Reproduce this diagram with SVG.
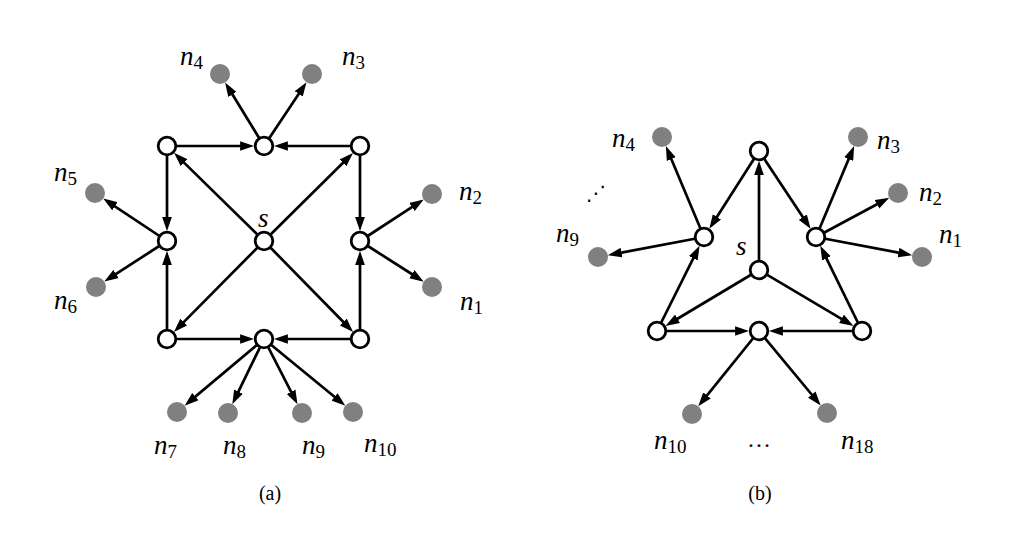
<svg xmlns="http://www.w3.org/2000/svg" width="1028" height="553" viewBox="0 0 1028 553">
<style>
.e{stroke:#000;stroke-width:2.7;fill:none;marker-end:url(#ah)}
.o{fill:#fff;stroke:#000;stroke-width:2.8}
.g{fill:#808080;stroke:none}
.l{font-family:"Liberation Serif","Times New Roman",serif;font-style:italic;font-size:27px;fill:#000}
.sub{font-size:19px;font-style:normal}
.cap{font-family:"Liberation Serif","Times New Roman",serif;font-size:20px;fill:#000;text-anchor:middle}
</style>
<defs>
<marker id="ah" markerUnits="userSpaceOnUse" markerWidth="14" markerHeight="10" refX="5" refY="4.5" orient="auto" viewBox="0 0 13 9">
<path d="M0,0 L13,4.5 L0,9 z" fill="#000"/>
</marker>
</defs>
<rect width="1028" height="553" fill="#fff"/>
<g id="connectors">
<line class="e" x1="167" y1="146" x2="245.5" y2="146"/>
<line class="e" x1="360" y1="146" x2="282.5" y2="146"/>
<line class="e" x1="167" y1="146" x2="167" y2="222.5"/>
<line class="e" x1="167" y1="339" x2="167" y2="259.5"/>
<line class="e" x1="360" y1="146" x2="360" y2="222.5"/>
<line class="e" x1="360" y1="339" x2="360" y2="259.5"/>
<line class="e" x1="167" y1="339" x2="245.5" y2="339"/>
<line class="e" x1="360" y1="339" x2="282.5" y2="339"/>
<line class="e" x1="264" y1="241" x2="180.2" y2="158.9"/>
<line class="e" x1="264" y1="241" x2="346.85" y2="159"/>
<line class="e" x1="264" y1="241" x2="180" y2="325.85"/>
<line class="e" x1="264" y1="241" x2="347.05" y2="325.8"/>
<line class="e" x1="264" y1="146" x2="229.6" y2="89.8"/>
<line class="e" x1="264" y1="146" x2="301.7" y2="89.4"/>
<line class="e" x1="167" y1="241" x2="110.4" y2="203.3"/>
<line class="e" x1="167" y1="241" x2="111.5" y2="276.9"/>
<line class="e" x1="360" y1="241" x2="416.5" y2="204.1"/>
<line class="e" x1="360" y1="241" x2="416.4" y2="277"/>
<line class="e" x1="264" y1="339" x2="191.2" y2="400.1"/>
<line class="e" x1="264" y1="339" x2="236.1" y2="396.4"/>
<line class="e" x1="264" y1="339" x2="293.55" y2="396.55"/>
<line class="e" x1="264" y1="339" x2="338.7" y2="400.3"/>
<line class="e" x1="759" y1="270" x2="759" y2="169.5"/>
<line class="e" x1="759" y1="151" x2="714" y2="221.4"/>
<line class="e" x1="759" y1="151" x2="805.8" y2="221.6"/>
<line class="e" x1="759" y1="270" x2="672.9" y2="321.5"/>
<line class="e" x1="759" y1="270" x2="846.1" y2="321.6"/>
<line class="e" x1="657" y1="331" x2="695.7" y2="253.5"/>
<line class="e" x1="862" y1="331" x2="824.1" y2="253.6"/>
<line class="e" x1="657" y1="331" x2="740.5" y2="331"/>
<line class="e" x1="862" y1="331" x2="777.5" y2="331"/>
<line class="e" x1="704" y1="237" x2="669.2" y2="154.05"/>
<line class="e" x1="704" y1="237" x2="616.2" y2="253.6"/>
<line class="e" x1="816" y1="237" x2="850.8" y2="154.05"/>
<line class="e" x1="816" y1="237" x2="881.7" y2="201.75"/>
<line class="e" x1="816" y1="237" x2="903.8" y2="253.6"/>
<line class="e" x1="759" y1="331" x2="703.6" y2="399.6"/>
<line class="e" x1="759" y1="331" x2="815.2" y2="398.75"/>
</g>
<g id="a-s"><circle class="o" cx="264" cy="241" r="8.8"/><text class="l" x="258" y="227">s</text></g>
<g id="a-tl"><circle class="o" cx="167" cy="146" r="8.8"/></g>
<g id="a-tm"><circle class="o" cx="264" cy="146" r="8.8"/></g>
<g id="a-tr"><circle class="o" cx="360" cy="146" r="8.8"/></g>
<g id="a-lm"><circle class="o" cx="167" cy="241" r="8.8"/></g>
<g id="a-rm"><circle class="o" cx="360" cy="241" r="8.8"/></g>
<g id="a-bl"><circle class="o" cx="167" cy="339" r="8.8"/></g>
<g id="a-bm"><circle class="o" cx="264" cy="339" r="8.8"/></g>
<g id="a-br"><circle class="o" cx="360" cy="339" r="8.8"/></g>
<g id="a-n4"><circle class="g" cx="220" cy="74" r="10"/><text class="l" x="180" y="65">n<tspan class="sub" dy="4">4</tspan></text></g>
<g id="a-n3"><circle class="g" cx="312" cy="74" r="10"/><text class="l" x="342" y="65">n<tspan class="sub" dy="4">3</tspan></text></g>
<g id="a-n5"><circle class="g" cx="95" cy="193" r="10"/><text class="l" x="54" y="181">n<tspan class="sub" dy="4">5</tspan></text></g>
<g id="a-n6"><circle class="g" cx="96" cy="287" r="10"/><text class="l" x="54" y="309">n<tspan class="sub" dy="4">6</tspan></text></g>
<g id="a-n2"><circle class="g" cx="432" cy="194" r="10"/><text class="l" x="459" y="200">n<tspan class="sub" dy="4">2</tspan></text></g>
<g id="a-n1"><circle class="g" cx="432" cy="287" r="10"/><text class="l" x="460" y="310">n<tspan class="sub" dy="4">1</tspan></text></g>
<g id="a-n7"><circle class="g" cx="177" cy="412" r="10"/><text class="l" x="154" y="454">n<tspan class="sub" dy="4">7</tspan></text></g>
<g id="a-n8"><circle class="g" cx="228" cy="413" r="10"/><text class="l" x="223" y="454">n<tspan class="sub" dy="4">8</tspan></text></g>
<g id="a-n9"><circle class="g" cx="302" cy="413" r="10"/><text class="l" x="302" y="454">n<tspan class="sub" dy="4">9</tspan></text></g>
<g id="a-n10"><circle class="g" cx="353" cy="412" r="10"/><text class="l" x="364" y="452">n<tspan class="sub" dy="4">10</tspan></text></g>
<text class="cap" x="270" y="500">(a)</text>
<g id="b-t"><circle class="o" cx="759" cy="151" r="8.8"/></g>
<g id="b-l"><circle class="o" cx="704" cy="237" r="8.8"/></g>
<g id="b-r"><circle class="o" cx="816" cy="237" r="8.8"/></g>
<g id="b-s"><circle class="o" cx="759" cy="270" r="8.8"/><text class="l" x="736" y="255">s</text></g>
<g id="b-bl"><circle class="o" cx="657" cy="331" r="8.8"/></g>
<g id="b-bm"><circle class="o" cx="759" cy="331" r="8.8"/></g>
<g id="b-br"><circle class="o" cx="862" cy="331" r="8.8"/></g>
<g id="b-n4"><circle class="g" cx="662" cy="137" r="10"/><text class="l" x="612" y="147">n<tspan class="sub" dy="4">4</tspan></text></g>
<g id="b-n9"><circle class="g" cx="598" cy="257" r="10"/><text class="l" x="556" y="242">n<tspan class="sub" dy="4">9</tspan></text></g>
<g id="b-n3"><circle class="g" cx="858" cy="137" r="10"/><text class="l" x="877" y="149">n<tspan class="sub" dy="4">3</tspan></text></g>
<g id="b-n2"><circle class="g" cx="898" cy="193" r="10"/><text class="l" x="919" y="201">n<tspan class="sub" dy="4">2</tspan></text></g>
<g id="b-n1"><circle class="g" cx="922" cy="257" r="10"/><text class="l" x="939" y="243">n<tspan class="sub" dy="4">1</tspan></text></g>
<g id="b-n10"><circle class="g" cx="692" cy="414" r="10"/><text class="l" x="654" y="449">n<tspan class="sub" dy="4">10</tspan></text></g>
<g id="b-n18"><circle class="g" cx="827" cy="413" r="10"/><text class="l" x="841" y="449">n<tspan class="sub" dy="4">18</tspan></text></g>
<text class="cap" x="759" y="447" style="font-size:24px">…</text>
<text x="596" y="200" style="font-family:'DejaVu Sans',sans-serif;font-size:20px;text-anchor:middle">⋰</text>
<text class="cap" x="760" y="500">(b)</text>
</svg>
